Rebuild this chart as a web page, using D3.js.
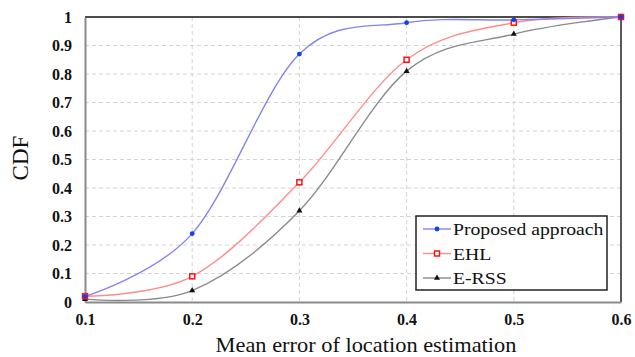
<!DOCTYPE html>
<html>
<head>
<meta charset="utf-8">
<script src="https://cdn.jsdelivr.net/npm/d3@7"></script>
<style>
  html, body { margin: 0; padding: 0; background: #fff; }
  svg { display: block; }
  svg text { font-family: "Liberation Serif", "DejaVu Serif", serif !important; }
</style>
</head>
<body>
<svg id="chart" width="635" height="357"></svg>
<script>
// Mean location error thresholds (x) and CDF values for each method
const errors = [0.1, 0.2, 0.3, 0.4, 0.5, 0.6];
const proposed = [0.02, 0.24, 0.87, 0.98, 0.99, 1.0];
const ehl = [0.02, 0.09, 0.42, 0.85, 0.98, 1.0];
const erss = [0.01, 0.04, 0.32, 0.81, 0.94, 1.0];
const xTicks = [0.1, 0.2, 0.3, 0.4, 0.5, 0.6];
const yTicks = [0, 0.1, 0.2, 0.3, 0.4, 0.5, 0.6, 0.7, 0.8, 0.9, 1];
const seriesNames = ["Proposed approach", "EHL", "E-RSS"];

const series = [
  { name: seriesNames[0], values: proposed, line: "#8585ee", mark: "#1040f0", shape: "circle" },
  { name: seriesNames[1], values: ehl, line: "#ff8c8c", mark: "#ff1010", shape: "square" },
  { name: seriesNames[2], values: erss, line: "#8a8a8a", mark: "#111111", shape: "triangle" }
];

const svg = d3.select("#chart");
const L = 85, R = 621, T = 17, B = 302;
const x = d3.scaleLinear().domain([0.1, 0.6]).range([L, R]);
const y = d3.scaleLinear().domain([0, 1]).range([B, T]);
const SX = 1.12; // horizontal text stretch

// dashed grid
const grid = svg.append("g");
grid.selectAll("line.v").data(xTicks.slice(1, -1)).join("line")
  .attr("x1", d => x(d)).attr("x2", d => x(d)).attr("y1", T).attr("y2", B)
  .attr("stroke", "#d4d4d4").attr("stroke-width", 1).attr("stroke-dasharray", "4,3");
grid.selectAll("line.h").data(yTicks.slice(1, -1)).join("line")
  .attr("x1", L).attr("x2", R).attr("y1", d => y(d)).attr("y2", d => y(d))
  .attr("stroke", "#d4d4d4").attr("stroke-width", 1).attr("stroke-dasharray", "4,3");

// frame: gray left/bottom axes, dark top/right edges
svg.append("line").attr("x1", L).attr("x2", R).attr("y1", T).attr("y2", T)
  .attr("stroke", "#111").attr("stroke-width", 1.5);
svg.append("line").attr("x1", R).attr("x2", R).attr("y1", T).attr("y2", B)
  .attr("stroke", "#222").attr("stroke-width", 1.5);

const xAxis = svg.append("g").attr("transform", `translate(0,${B})`)
  .call(d3.axisBottom(x).tickValues(xTicks).tickSize(0).tickPadding(12).tickFormat(d3.format(".1f")));
const yAxis = svg.append("g").attr("transform", `translate(${L},0)`)
  .call(d3.axisLeft(y).tickValues(yTicks).tickSize(0).tickPadding(13)
    .tickFormat(d => d === 0 ? "0" : d === 1 ? "1" : d3.format(".1f")(d)));
[xAxis, yAxis].forEach(g => {
  g.select(".domain").attr("stroke", "#8a8a8a").attr("stroke-width", 2);
  g.selectAll("text").attr("font-weight", "bold").attr("font-size", 16).attr("fill", "#111");
});

// smooth curves
const line = d3.line()
  .x((d, i) => x(errors[i]))
  .y(d => y(d))
  .curve(d3.curveCatmullRom.alpha(0));

function drawMarker(g, shape, color, cx, cy) {
  if (shape === "circle") {
    g.append("circle").attr("cx", cx).attr("cy", cy).attr("r", 2.4).attr("fill", color);
  } else if (shape === "square") {
    g.append("rect").attr("x", cx - 2.5).attr("y", cy - 2.5).attr("width", 5).attr("height", 5)
      .attr("fill", "#fff").attr("stroke", color).attr("stroke-width", 1.5);
  } else {
    g.append("path").attr("d", d3.symbol(d3.symbolTriangle, 16)()).attr("transform", `translate(${cx},${cy})`)
      .attr("fill", color);
  }
}

series.slice().reverse().forEach(s => {
  svg.append("path").datum(s.values).attr("d", line)
    .attr("fill", "none").attr("stroke", s.line).attr("stroke-width", 1.4);
});
series.slice().reverse().forEach(s => {
  const g = svg.append("g");
  s.values.forEach((v, i) => drawMarker(g, s.shape, s.mark, x(errors[i]), y(v)));
});

// axis titles
svg.append("text").attr("transform", `translate(366,352) scale(${SX},1)`).attr("text-anchor", "middle")
  .attr("font-size", 20).attr("fill", "#111")
  .text("Mean error of location estimation");
svg.append("text").attr("transform", "translate(28,158) rotate(-90)").attr("text-anchor", "middle")
  .attr("font-size", 23).attr("fill", "#111")
  .text("CDF");

// legend
const lg = svg.append("g");
lg.append("rect").attr("x", 416).attr("y", 216).attr("width", 191).attr("height", 74)
  .attr("fill", "#fff").attr("stroke", "#222").attr("stroke-width", 1.5);
series.forEach((s, i) => {
  const cy = 229 + i * 24.5;
  lg.append("line").attr("x1", 423).attr("x2", 451).attr("y1", cy).attr("y2", cy)
    .attr("stroke", s.line).attr("stroke-width", 1.4);
  drawMarker(lg, s.shape, s.mark, 437, cy);
  lg.append("text").attr("transform", `translate(453,${cy + 6}) scale(${SX},1)`)
    .attr("font-size", 17.6).attr("fill", "#111").text(s.name);
});
</script>
</body>
</html>
